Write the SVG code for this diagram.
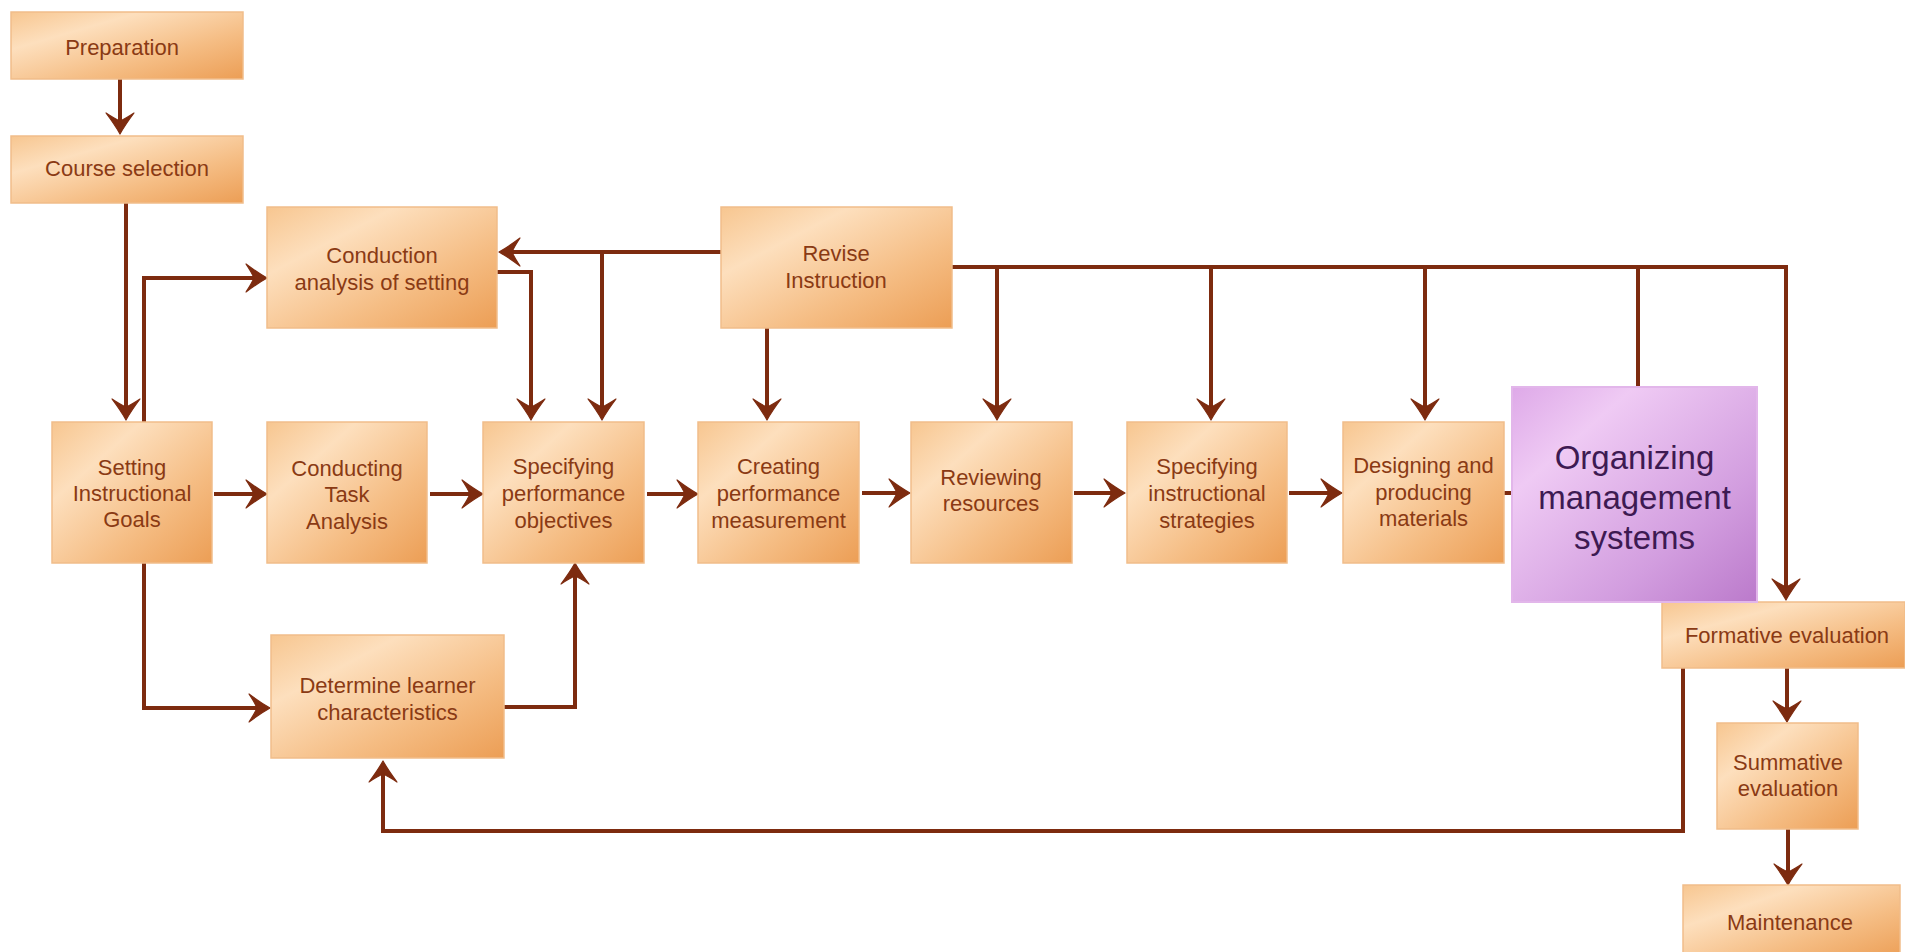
<svg xmlns="http://www.w3.org/2000/svg" width="1905" height="952" viewBox="0 0 1905 952">
  <defs>
    <linearGradient id="gOrange" x1="0" y1="0" x2="1" y2="1">
      <stop offset="0" stop-color="#f7c690"/>
      <stop offset="0.28" stop-color="#fddfbd"/>
      <stop offset="0.65" stop-color="#f5bd84"/>
      <stop offset="1" stop-color="#ec9e55"/>
    </linearGradient>
    <linearGradient id="gPurple" x1="0" y1="0" x2="1" y2="1">
      <stop offset="0" stop-color="#dea9e8"/>
      <stop offset="0.25" stop-color="#efcaf4"/>
      <stop offset="0.7" stop-color="#d29ddf"/>
      <stop offset="1" stop-color="#bb7acb"/>
    </linearGradient>
    <marker id="arrow" markerUnits="userSpaceOnUse" viewBox="-25 -16 28 32" refX="-6" refY="0" markerWidth="28" markerHeight="32" orient="auto">
      <path d="M0,0 Q-9,-5 -21,-14 Q-15,-5 -13,0 Q-15,5 -21,14 Q-9,5 0,0 Z" fill="#7d2b0f" stroke="#7d2b0f" stroke-width="1.2" stroke-linejoin="round"/>
    </marker>
    <style>
      .box { fill: url(#gOrange); stroke: #f1bd8a; stroke-width: 1.5; }
      .pbox { fill: url(#gPurple); stroke: #e2b6ea; stroke-width: 2; }
      .t { font-family: "Liberation Sans", Arial, sans-serif; font-size: 22px; fill: #8a3a14; text-anchor: middle; }
      .pt { font-family: "Liberation Sans", Arial, sans-serif; font-size: 33px; fill: #3d1a52; text-anchor: middle; }
      .c { fill: none; stroke: #7d2b0f; stroke-width: 4; }
      .a { marker-end: url(#arrow); }
    </style>
  </defs>

  <rect width="1905" height="952" fill="#ffffff"/>

  <!-- connectors -->
  <g id="connectors">
    <path class="c a" d="M120,79 V128"/>
    <path class="c a" d="M126,203 V414"/>
    <path class="c a" d="M144,422 V278 H261"/>
    <path class="c a" d="M497,272 H531 V414"/>
    <path class="c a" d="M721,252 H505"/>
    <path class="c a" d="M602,252 V414"/>
    <path class="c a" d="M767,328 V414"/>
    <path class="c a" d="M952,267 H1786 V594"/>
    <path class="c a" d="M997,267 V414"/>
    <path class="c a" d="M1211,267 V414"/>
    <path class="c a" d="M1425,267 V414"/>
    <path class="c" d="M1638,267 V388"/>
    <path class="c a" d="M214,494 H261"/>
    <path class="c a" d="M430,494 H477"/>
    <path class="c a" d="M647,494 H692"/>
    <path class="c a" d="M862,493 H904"/>
    <path class="c a" d="M1074,493 H1119"/>
    <path class="c a" d="M1289,493 H1336"/>
    <path class="c" d="M1504,493 H1513"/>
    <path class="c a" d="M144,563 V708 H264"/>
    <path class="c a" d="M504,707 H575 V569"/>
    <path class="c a" d="M1787,668 V716"/>
    <path class="c a" d="M1788,829 V879"/>
    <path class="c a" d="M1683,668 V831 H383 V767"/>
  </g>

  <g id="preparation">
    <rect class="box" x="11" y="12" width="232" height="67"/>
    <text class="t" x="122" y="55">Preparation</text>
  </g>
  <g id="course-selection">
    <rect class="box" x="11" y="136" width="232" height="67"/>
    <text class="t" x="127" y="176">Course selection</text>
  </g>
  <g id="analysis-of-setting">
    <rect class="box" x="267" y="207" width="230" height="121"/>
    <text class="t" x="382" y="263">Conduction</text>
    <text class="t" x="382" y="290">analysis of setting</text>
  </g>
  <g id="revise-instruction">
    <rect class="box" x="721" y="207" width="231" height="121"/>
    <text class="t" x="836" y="261">Revise</text>
    <text class="t" x="836" y="288">Instruction</text>
  </g>
  <g id="instructional-goals">
    <rect class="box" x="52" y="422" width="160" height="141"/>
    <text class="t" x="132" y="475">Setting</text>
    <text class="t" x="132" y="501">Instructional</text>
    <text class="t" x="132" y="527">Goals</text>
  </g>
  <g id="task-analysis">
    <rect class="box" x="267" y="422" width="160" height="141"/>
    <text class="t" x="347" y="476">Conducting</text>
    <text class="t" x="347" y="502">Task</text>
    <text class="t" x="347" y="529">Analysis</text>
  </g>
  <g id="performance-objectives">
    <rect class="box" x="483" y="422" width="161" height="141"/>
    <text class="t" x="563.5" y="474">Specifying</text>
    <text class="t" x="563.5" y="501">performance</text>
    <text class="t" x="563.5" y="528">objectives</text>
  </g>
  <g id="performance-measurement">
    <rect class="box" x="698" y="422" width="161" height="141"/>
    <text class="t" x="778.5" y="474">Creating</text>
    <text class="t" x="778.5" y="501">performance</text>
    <text class="t" x="778.5" y="528">measurement</text>
  </g>
  <g id="reviewing-resources">
    <rect class="box" x="911" y="422" width="161" height="141"/>
    <text class="t" x="991" y="485">Reviewing</text>
    <text class="t" x="991" y="511">resources</text>
  </g>
  <g id="instructional-strategies">
    <rect class="box" x="1127" y="422" width="160" height="141"/>
    <text class="t" x="1207" y="474">Specifying</text>
    <text class="t" x="1207" y="501">instructional</text>
    <text class="t" x="1207" y="528">strategies</text>
  </g>
  <g id="producing-materials">
    <rect class="box" x="1343" y="422" width="161" height="141"/>
    <text class="t" x="1423.5" y="473">Designing and</text>
    <text class="t" x="1423.5" y="500">producing</text>
    <text class="t" x="1423.5" y="526">materials</text>
  </g>
  <g id="learner-characteristics">
    <rect class="box" x="271" y="635" width="233" height="123"/>
    <text class="t" x="387.5" y="693">Determine learner</text>
    <text class="t" x="387.5" y="720">characteristics</text>
  </g>
  <g id="formative-evaluation">
    <rect class="box" x="1662" y="602" width="243" height="66"/>
    <text class="t" x="1787" y="643">Formative evaluation</text>
  </g>
  <g id="summative-evaluation">
    <rect class="box" x="1717" y="723" width="141" height="106"/>
    <text class="t" x="1788" y="770">Summative</text>
    <text class="t" x="1788" y="796">evaluation</text>
  </g>
  <g id="maintenance">
    <rect class="box" x="1683" y="885" width="217" height="75"/>
    <text class="t" x="1790" y="930">Maintenance</text>
  </g>
  <g id="management-systems">
    <rect class="pbox" x="1512" y="387" width="245" height="215"/>
    <text class="pt" x="1634.5" y="469">Organizing</text>
    <text class="pt" x="1634.5" y="509">management</text>
    <text class="pt" x="1634.5" y="549">systems</text>
  </g>
</svg>
